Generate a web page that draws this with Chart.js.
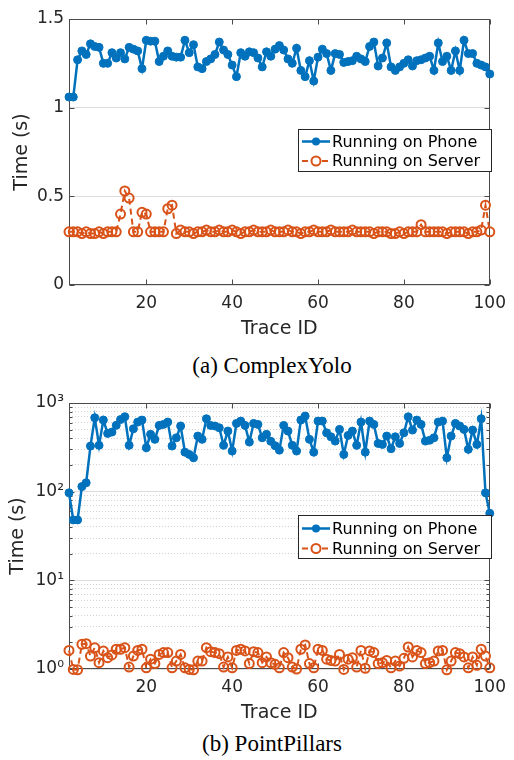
<!DOCTYPE html>
<html>
<head>
<meta charset="utf-8">
<script src="https://cdn.jsdelivr.net/npm/chart.js@4"></script>
<style>
  html, body { margin:0; padding:0; background:#fff; }
  body { width:514px; height:760px; position:relative; overflow:hidden; }
  .wrap { position:absolute; left:0; width:514px; height:340px; }
  .cap { position:absolute; left:122px; width:300px; height:30px; line-height:30px; text-align:center;
         font-family:'Liberation Serif','Times New Roman',serif; font-size:23px; color:#000; white-space:nowrap; }
</style>
</head>
<body>
<div class="wrap" style="top:0px"><canvas id="c1" width="514" height="340"></canvas></div>
<div class="cap" style="top:351px">(a) ComplexYolo</div>
<div class="wrap" style="top:384px"><canvas id="c2" width="514" height="340"></canvas></div>
<div class="cap" style="top:729px">(b) PointPillars</div>
<script>
// ---------- data ----------
const traceIds = [2,3,4,5,6,7,8,9,10,11,12,13,14,15,16,17,18,19,20,21,22,23,24,25,26,27,28,29,30,31,
  32,33,34,35,36,37,38,39,40,41,42,43,44,45,46,47,48,49,50,51,52,53,54,55,56,57,58,59,60,61,
  62,63,64,65,66,67,68,69,70,71,72,73,74,75,76,77,78,79,80,81,82,83,84,85,86,87,88,89,90,91,
  92,93,94,95,96,97,98,99,100];

const seriesNames = ['Running on Phone', 'Running on Server'];

// (a) ComplexYolo
const yoloPhone = [1.06,1.06,1.27,1.32,1.30,1.36,1.345,1.34,1.25,1.25,
  1.31,1.28,1.31,1.275,1.34,1.33,1.32,1.22,1.38,1.375,
  1.375,1.26,1.29,1.32,1.29,1.285,1.285,1.38,1.31,1.355,
  1.23,1.22,1.26,1.275,1.30,1.37,1.325,1.30,1.24,1.175,
  1.31,1.29,1.315,1.31,1.28,1.23,1.315,1.29,1.33,1.35,
  1.325,1.275,1.25,1.335,1.21,1.175,1.265,1.15,1.285,1.33,
  1.305,1.21,1.305,1.30,1.255,1.26,1.265,1.29,1.275,1.26,
  1.345,1.37,1.235,1.28,1.365,1.23,1.21,1.23,1.25,1.27,
  1.235,1.265,1.27,1.28,1.29,1.21,1.365,1.26,1.29,1.21,
  1.32,1.21,1.38,1.305,1.305,1.25,1.24,1.23,1.19];
const yoloServer = [0.30,0.30,0.30,0.29,0.30,0.29,0.29,0.30,0.29,0.30,
  0.30,0.30,0.40,0.53,0.49,0.30,0.30,0.41,0.40,0.30,
  0.30,0.30,0.30,0.43,0.45,0.29,0.31,0.30,0.30,0.29,
  0.30,0.30,0.31,0.30,0.30,0.31,0.30,0.30,0.31,0.30,
  0.29,0.30,0.30,0.31,0.30,0.30,0.30,0.31,0.30,0.30,
  0.30,0.31,0.30,0.30,0.29,0.30,0.30,0.31,0.30,0.30,
  0.30,0.31,0.30,0.30,0.30,0.30,0.31,0.30,0.30,0.30,
  0.30,0.29,0.30,0.30,0.30,0.29,0.29,0.30,0.29,0.30,
  0.30,0.30,0.34,0.30,0.30,0.30,0.30,0.30,0.29,0.30,
  0.30,0.30,0.30,0.29,0.30,0.30,0.31,0.45,0.30];

// (b) PointPillars
const pillarsPhone = [97,48,48,114,126,327,681,333,642,454,
  470,560,650,700,333,512,609,642,313,443,
  389,559,574,609,327,405,550,279,263,241,
  424,389,664,559,550,525,333,482,287,589,
  625,559,363,589,574,405,443,370,330,294,
  559,482,333,287,642,712,389,279,625,625,
  461,416,372,504,263,431,482,333,609,279,
  625,574,350,341,424,305,416,350,461,699,
  495,642,574,372,380,405,609,625,241,424,
  589,550,504,300,495,341,664,97,57];
const pillarsServer = [1.62,0.99,0.98,1.90,1.93,1.40,1.74,1.18,1.60,1.34,
  1.44,1.67,1.67,1.74,1.05,1.40,1.62,1.67,1.03,1.29,
  1.15,1.46,1.53,1.53,1.03,1.23,1.46,1.03,0.99,0.98,
  1.23,1.23,1.74,1.57,1.53,1.49,1.05,1.37,1.03,1.62,
  1.67,1.60,1.15,1.57,1.53,1.18,1.37,1.18,1.13,1.03,
  1.53,1.34,1.05,1.00,1.67,1.87,1.15,1.03,1.67,1.62,
  1.29,1.25,1.23,1.46,0.99,1.29,1.34,1.05,1.62,1.02,
  1.60,1.53,1.15,1.18,1.25,1.03,1.23,1.08,1.32,1.77,
  1.37,1.62,1.53,1.15,1.18,1.23,1.60,1.62,0.98,1.23,
  1.53,1.49,1.37,1.03,1.37,1.10,1.67,1.40,1.03];

// ticks
const xTicks = [20,40,60,80,100];
const xTickLabels = ['20','40','60','80','100'];
const yTicksA = [0,0.5,1,1.5];
const yTickLabelsA = ['0','0.5','1','1.5'];
const yTicksB = [1,10,100,1000];
const yTickLabelsB = ['10\u2070','10\u00B9','10\u00B2','10\u00B3'];
const yMinorB = [2,3,4,5,6,7,8,9,20,30,40,50,60,70,80,90,200,300,400,500,600,700,800,900];

// ---------- styling ----------
const BLUE = '#0072BD', ORANGE = '#D95319', AX = '#262626';
const FONT = "'DejaVu Sans', sans-serif";

const matlabAxes = {
  id: 'matlabAxes',
  beforeDatasetsDraw(chart, args, opts) {
    const {ctx, chartArea: a, scales} = chart;
    const L = Math.round(a.left) + 0.5, R = Math.round(a.right) - 0.5;
    const T = Math.round(a.top) + 0.5, B = Math.round(a.bottom) - 0.5;
    ctx.save();
    ctx.strokeStyle = '#4a4a4a';
    ctx.lineWidth = 1;
    ctx.setLineDash([]);
    ctx.beginPath();
    scales.x.ticks.forEach(t => {
      const p = Math.round(scales.x.getPixelForValue(t.value)) + 0.5;
      ctx.moveTo(p, B); ctx.lineTo(p, B - 5);
      ctx.moveTo(p, T); ctx.lineTo(p, T + 5);
    });
    const majors = opts.majors || [];
    scales.y.ticks.forEach(t => {
      const len = (!opts.log || majors.includes(t.value)) ? 5 : 3;
      const p = Math.round(scales.y.getPixelForValue(t.value)) + 0.5;
      ctx.moveTo(L, p); ctx.lineTo(L + len, p);
      ctx.moveTo(R, p); ctx.lineTo(R - len, p);
    });
    ctx.stroke();
    ctx.strokeRect(L, T, R - L, B - T);
    ctx.restore();
  },
  afterDraw(chart, args, opts) {
    const g = opts.legend; if (!g) return;
    const ctx = chart.ctx;
    ctx.save();
    ctx.fillStyle = '#fff';
    ctx.fillRect(g.x, g.y, g.w, g.h);
    ctx.strokeStyle = '#262626'; ctx.lineWidth = 1; ctx.setLineDash([]);
    ctx.strokeRect(g.x + 0.5, g.y + 0.5, g.w, g.h);
    chart.data.datasets.forEach((ds, i) => {
      const cy = g.y + g.row0 + i * g.gap;
      ctx.strokeStyle = ds.borderColor; ctx.lineWidth = ds.borderWidth;
      ctx.setLineDash(ds.borderDash || []);
      ctx.beginPath(); ctx.moveTo(g.x + 4, cy); ctx.lineTo(g.x + 32, cy); ctx.stroke();
      ctx.setLineDash([]);
      ctx.beginPath(); ctx.arc(g.x + 18, cy, ds.pointRadius, 0, Math.PI * 2);
      if (ds.legendFilled) { ctx.fillStyle = ds.borderColor; ctx.fill(); }
      else { ctx.fillStyle = '#fff'; ctx.fill(); ctx.lineWidth = ds.pointBorderWidth; ctx.stroke(); }
      ctx.fillStyle = '#000';
      ctx.font = "16px " + FONT;
      ctx.textBaseline = 'middle'; ctx.textAlign = 'left';
      ctx.fillText(ds.label, g.x + 34, cy + 1);
    });
    ctx.restore();
  }
};

function pts(vals) { return traceIds.map((x, i) => ({x: x, y: vals[i]})); }

function datasets(phone, server) {
  return [
    {label: seriesNames[0], data: pts(phone), borderColor: BLUE, backgroundColor: BLUE,
     borderWidth: 2.5, pointRadius: 4, pointBorderWidth: 1, pointBackgroundColor: BLUE, pointBorderColor: BLUE,
     clip: false, tension: 0, order: 1, legendFilled: true},
    {label: seriesNames[1], data: pts(server), borderColor: ORANGE, backgroundColor: ORANGE,
     borderWidth: 2, borderDash: [6, 4], pointRadius: 4.5, pointBorderWidth: 2,
     pointBackgroundColor: 'rgba(0,0,0,0)', pointBorderColor: ORANGE,
     clip: false, tension: 0, order: 0, legendFilled: false}
  ];
}

function xScale() {
  return {
    type: 'linear', min: 2, max: 100,
    afterBuildTicks: s => { s.ticks = xTicks.map(v => ({value: v})); },
    afterFit: s => { s.height = 55; },
    grid: {display: false, drawTicks: false},
    border: {display: false},
    ticks: {font: {family: FONT, size: 17}, color: AX, padding: 8, maxRotation: 0, autoSkip: false,
            callback: (v, i) => xTickLabels[i]},
    title: {display: true, text: 'Trace ID', font: {family: FONT, size: 19}, color: AX,
            padding: {top: 0, bottom: 0}}
  };
}

// ---------- chart (a) ----------
new Chart(document.getElementById('c1'), {
  type: 'line',
  data: {datasets: datasets(yoloPhone, yoloServer)},
  options: {
    responsive: false, animation: false, devicePixelRatio: 1,
    layout: {padding: {top: 19, right: 19, bottom: 0, left: 0}},
    plugins: {legend: {display: false}, tooltip: {enabled: false},
      matlabAxes: {log: false, legend: {x: 298, y: 129, w: 193, h: 42, row0: 12.5, gap: 19.5}}},
    scales: {
      x: xScale(),
      y: {
        type: 'linear', min: 0, max: 1.5,
        afterBuildTicks: s => { s.ticks = yTicksA.map(v => ({value: v})); },
        afterFit: s => { s.width = 69; },
        grid: {color: '#dedede', drawTicks: false},
        border: {display: false},
        ticks: {font: {family: FONT, size: 17}, color: AX, padding: 5, callback: (v, i) => yTickLabelsA[i]},
        title: {display: true, text: 'Time (s)', font: {family: FONT, size: 19}, color: AX,
                padding: {top: 11, bottom: 0}}
      }
    }
  },
  plugins: [matlabAxes]
});

// ---------- chart (b) ----------
const allB = yTicksB.concat(yMinorB).sort((a, b) => a - b);
new Chart(document.getElementById('c2'), {
  type: 'line',
  data: {datasets: datasets(pillarsPhone, pillarsServer)},
  options: {
    responsive: false, animation: false, devicePixelRatio: 1,
    layout: {padding: {top: 19, right: 19, bottom: 0, left: 0}},
    plugins: {legend: {display: false}, tooltip: {enabled: false},
      matlabAxes: {log: true, majors: yTicksB, legend: {x: 298, y: 131, w: 193, h: 43, row0: 13.5, gap: 20}}},
    scales: {
      x: xScale(),
      y: {
        type: 'logarithmic', min: 1, max: 1000,
        afterBuildTicks: s => { s.ticks = allB.map(v => ({value: v})); },
        afterFit: s => { s.width = 69; },
        grid: {drawTicks: false,
               color: c => (c.tick && !yTicksB.includes(c.tick.value)) ? '#d2d2d2' : '#dedede'},
        border: {display: false,
                 dash: c => (c.tick && !yTicksB.includes(c.tick.value)) ? [1, 2] : []},
        ticks: {font: {family: FONT, size: 17}, color: AX, padding: 5, autoSkip: false,
                callback: v => { const k = yTicksB.indexOf(v); return k >= 0 ? yTickLabelsB[k] : ''; }},
        title: {display: true, text: 'Time (s)', font: {family: FONT, size: 19}, color: AX,
                padding: {top: 7, bottom: 0}}
      }
    }
  },
  plugins: [matlabAxes]
});
</script>
</body>
</html>
